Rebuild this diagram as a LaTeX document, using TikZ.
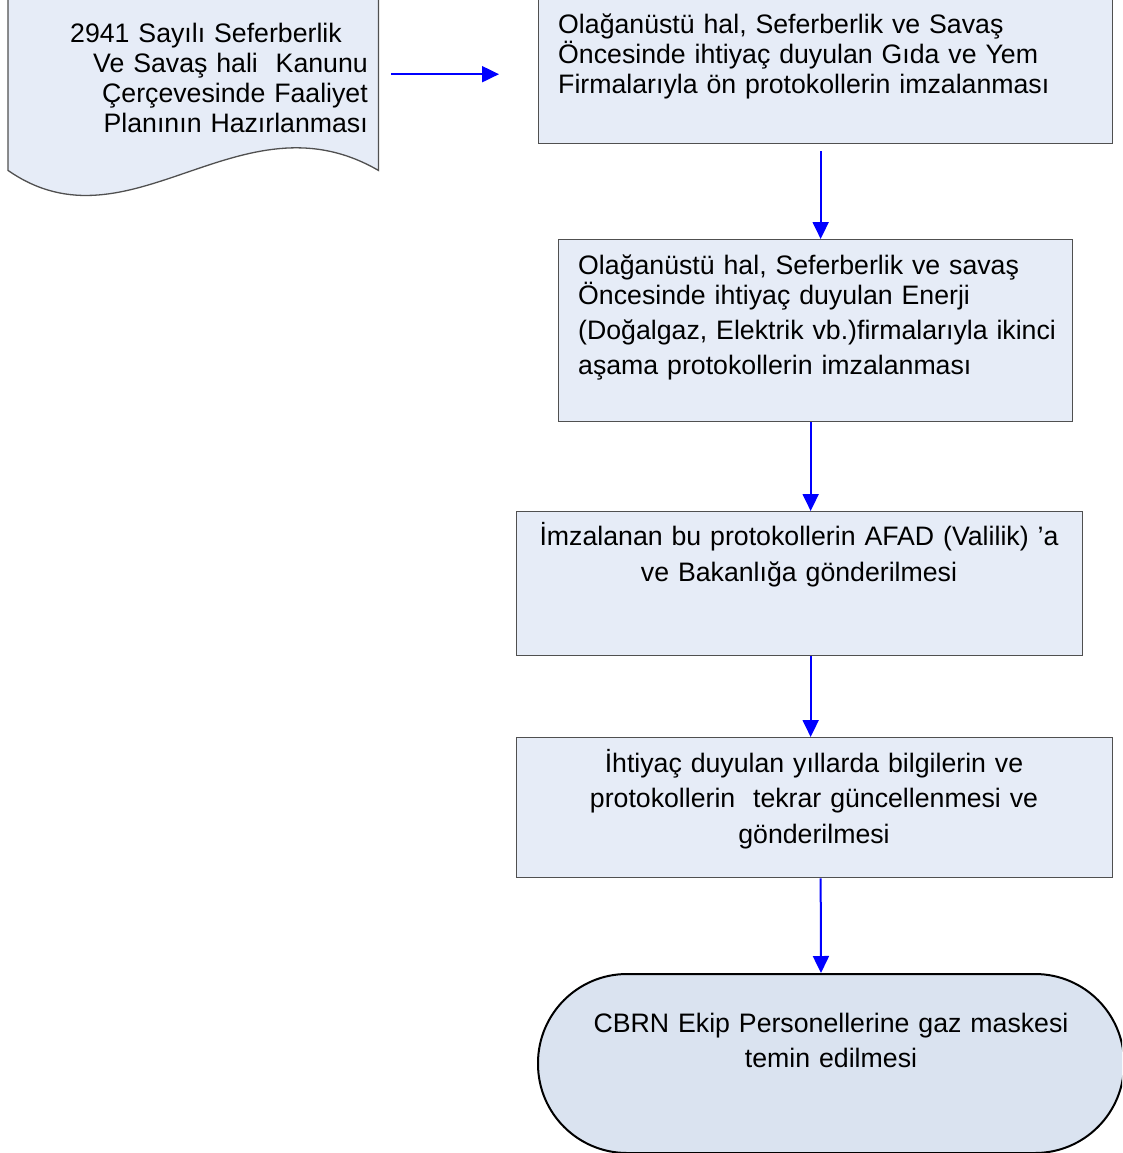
\documentclass[tikz,border=0pt]{standalone}
\usepackage{fontspec}
\setmainfont{Liberation Sans}
\usetikzlibrary{positioning, arrows.meta, calc}

\definecolor{boxfill}{RGB}{230,236,247}
\definecolor{termfill}{RGB}{218,227,240}
\definecolor{boxline}{RGB}{80,80,80}
\definecolor{arrowblue}{RGB}{0,0,255}

\tikzset{
    box/.style={draw=boxline, line width=1.3pt, fill=boxfill, inner sep=0pt, anchor=north west},
    txt/.style={inner sep=0pt, font=\fontsize{26.7}{30}\selectfont},
    flow/.style={draw=arrowblue, line width=2pt, -{Triangle[length=17pt,width=16pt]}}
}

\begin{document}
\begin{tikzpicture}[x=1pt, y=-1pt]
    \useasboundingbox (0,0) rectangle (1122,1153);
    \clip (0,0) rectangle (1122,1153);

    % document shape
    \node[inner sep=0pt, minimum width=370pt, minimum height=180pt, anchor=north west] (doc) at (8,-10) {};
    \draw[draw=boxline, line width=1.3pt, fill=boxfill]
        (doc.north west) -- (doc.south west)
        .. controls +(122,85) and +(-138,-80) .. (doc.south east)
        -- (doc.north east) -- cycle;
    \node[txt, anchor=base east, text width=320pt, align=right] (doctxt) at (368,43)
        {2941 Sayılı Seferberlik\rule{26pt}{0pt}\\ Ve Savaş hali~ Kanunu\\ Çerçevesinde Faaliyet\\ Planının Hazırlanması};

    % process boxes
    \node[box, minimum width=574pt, minimum height=163pt] (box1) at (538,-20) {};
    \node[box, minimum width=514pt, minimum height=182pt] (box2) at (558,239) {};
    \node[box, minimum width=566pt, minimum height=144pt] (box3) at (516,511) {};
    \node[box, minimum width=596pt, minimum height=140pt] (box4) at (516,737) {};
    \node[box, draw=black, line width=2pt, fill=termfill, rounded corners=89pt,
          minimum width=586pt, minimum height=179pt] (term) at (537,973) {};

    % texts
    \node[txt, anchor=base west, text width=530pt, align=left] (txt1) at (558,34)
        {Olağanüstü hal, Seferberlik ve Savaş\\ Öncesinde ihtiyaç duyulan Gıda ve Yem\\ Firmalarıyla ön protokollerin imzalanması};
    \node[txt, anchor=base west, text width=480pt, align=left] (txt2) at (578,274)
        {Olağanüstü hal, Seferberlik ve savaş\\ Öncesinde ihtiyaç duyulan Enerji\\[5pt] (Doğalgaz, Elektrik vb.)firmalarıyla ikinci\\[5pt] aşama protokollerin imzalanması};
    \node[txt, font=\fontsize{26.7}{36}\selectfont, anchor=base, text width=550pt, align=center] (txt3) at (799,545)
        {İmzalanan bu protokollerin AFAD (Valilik) ’a\\ ve Bakanlığa gönderilmesi};
    \node[txt, font=\fontsize{26.7}{35.5}\selectfont, anchor=base, text width=560pt, align=center] (txt4) at (814,772)
        {İhtiyaç duyulan yıllarda bilgilerin ve\\ protokollerin~ tekrar güncellenmesi ve\\ gönderilmesi};
    \node[txt, font=\fontsize{26.7}{35}\selectfont, anchor=base, text width=540pt, align=center] (txt5) at (831,1032)
        {CBRN Ekip Personellerine gaz maskesi\\ temin edilmesi};

    % arrows
    \draw[flow, shorten <=13pt, shorten >=39pt] ([yshift=6pt]doc.east) -- ([yshift=6pt]doc.east -| box1.west);
    \draw[flow] ([shift={(-5,7)}]box1.south) -- ([xshift=5pt]box2.north);
    \draw[flow] ([xshift=-5pt]box2.south) -- ([xshift=11pt]box3.north);
    \draw[flow] ([xshift=11pt]box3.south) -- ([xshift=-4pt]box4.north);
    \draw[flow] ([xshift=6pt]box4.south) -- ([xshift=-10pt]term.north);
\end{tikzpicture}
\end{document}
